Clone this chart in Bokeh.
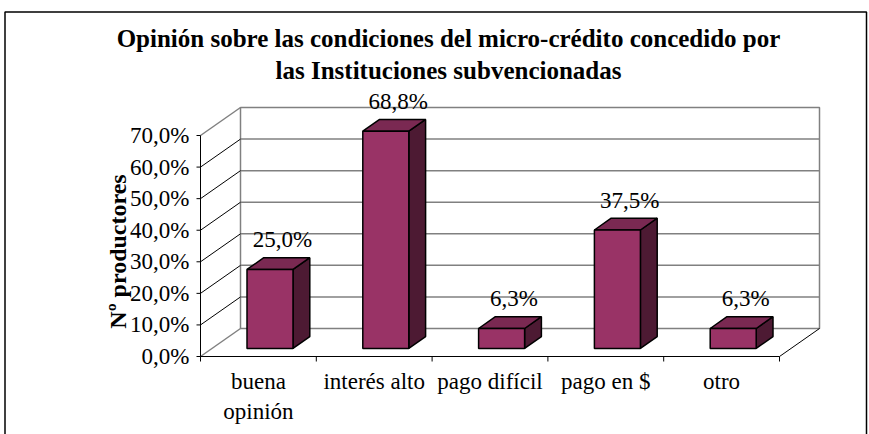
import math
from bokeh.plotting import figure
from bokeh.models import Range1d
from bokeh.embed import file_html
from bokeh.resources import INLINE
from bokeh.core.properties import value

# ---------------- data ----------------
categories = ["buena\nopinión", "interés alto", "pago difícil", "pago en $", "otro"]
values = [25.0, 68.8, 6.3, 37.5, 6.3]
y_ticks = [0, 10, 20, 30, 40, 50, 60, 70]
y_tick_labels = ["0,0%", "10,0%", "20,0%", "30,0%", "40,0%", "50,0%", "60,0%", "70,0%"]
title_lines = ["Opinión sobre las condiciones del micro-crédito concedido por",
               "las Instituciones subvencionadas"]
y_label = "Nº productores"

# ---------------- layout ----------------
W, H = 869, 434
PX_X = 115.8      # pixels per category
PX_Y = 3.157      # pixels per percent
OX, OY = 200, 356  # pixel position of (x=0.5, y=0)


def sx(px):  # horizontal pixel distance -> data
    return px / PX_X


def sy(px):  # vertical pixel distance -> data
    return px / PX_Y


FONT = "Liberation Serif"
GRAY = "#808080"
FRONT = "#993366"
TOP = "#7A2952"
SIDE = "#4D1A33"

p = figure(width=W, height=H,
           x_range=Range1d(0.5 - sx(OX), 0.5 + sx(W - OX)),
           y_range=Range1d(-sy(H - OY), sy(OY)),
           output_backend="svg", toolbar_location=None,
           min_border=0, x_axis_type=None, y_axis_type=None)
p.grid.visible = False
p.outline_line_color = None
p.background_fill_color = "white"
p.border_fill_color = "white"

n = len(categories)
x_lo, x_hi = 0.5, n + 0.5
y_top = y_ticks[-1]

# chart border
bl, br = 0.5 - sx(OX - 4.5), 0.5 + sx(866 - OX)
bt, bb = sy(OY - 11.5), -sy(H - OY + 10)
p.line([bl, bl, br, br], [bb, bt, bt, bb], line_color="black", line_width=1.5)

# depth of the 3-D box (back wall offset), in data units
DX = sx(40)
DY = sy(28)

# ---- back wall ----
p.patch([x_lo + DX, x_hi + DX, x_hi + DX, x_lo + DX],
        [DY, DY, y_top + DY, y_top + DY],
        fill_color="white", line_color=GRAY, line_width=1.5)
inner = y_ticks[1:-1]
p.segment(x0=[x_lo + DX] * len(inner), y0=[t + DY for t in inner],
          x1=[x_hi + DX] * len(inner), y1=[t + DY for t in inner],
          line_color=GRAY, line_width=1.5)
# side wall gridlines (black, thin)
p.segment(x0=[x_lo] * len(inner), y0=inner,
          x1=[x_lo + DX] * len(inner), y1=[t + DY for t in inner],
          line_color="black", line_width=1)
# side wall top & bottom edges (gray)
p.segment(x0=[x_lo, x_lo], y0=[0, y_top], x1=[x_lo + DX, x_lo + DX], y1=[DY, y_top + DY],
          line_color=GRAY, line_width=1.5)
# floor right edge
p.segment(x0=[x_hi], y0=[0], x1=[x_hi + DX], y1=[DY], line_color="black", line_width=1)

# ---- axes (front edges) ----
p.segment(x0=[x_lo, x_lo], y0=[0, 0], x1=[x_lo, x_hi], y1=[y_top, 0],
          line_color="black", line_width=1)
# y ticks + labels
p.segment(x0=[x_lo - sx(4)] * len(y_ticks), y0=y_ticks,
          x1=[x_lo] * len(y_ticks), y1=y_ticks, line_color="black", line_width=1)
p.text(x=[x_lo - sx(11)] * len(y_ticks), y=y_ticks, text=y_tick_labels,
       text_font=value(FONT), text_font_size="23px", text_color="black",
       text_align="right", text_baseline="middle")
# x ticks (between categories) + labels
bounds = [c + 0.5 for c in range(n + 1)]
p.segment(x0=bounds, y0=[0] * len(bounds), x1=bounds, y1=[-sy(5)] * len(bounds),
          line_color="black", line_width=1)
centers = [i + 1 for i in range(n)]
p.text(x=centers, y=[-sy(12)] * n, text=categories,
       text_font=value(FONT), text_font_size="23px", text_color="black",
       text_align="center", text_baseline="top", text_line_height=1.2)

# ---- bars ----
BW = sx(46)
DF, DB = 0.29, 0.71   # front / back depth of the bars
fx, fy = DF * DX, DF * DY
bx, by = DB * DX, DB * DY

front_xs, front_ys, top_xs, top_ys, side_xs, side_ys = [], [], [], [], [], []
for c, v in zip(centers, values):
    l, r = c - BW / 2, c + BW / 2
    front_xs.append([l + fx, r + fx, r + fx, l + fx])
    front_ys.append([fy, fy, v + fy, v + fy])
    top_xs.append([l + fx, r + fx, r + bx, l + bx])
    top_ys.append([v + fy, v + fy, v + by, v + by])
    side_xs.append([r + fx, r + bx, r + bx, r + fx])
    side_ys.append([fy, by, v + by, v + fy])

p.patches(side_xs, side_ys, fill_color=SIDE, line_color="black", line_width=1.5)
p.patches(top_xs, top_ys, fill_color=TOP, line_color="black", line_width=1.5)
p.patches(front_xs, front_ys, fill_color=FRONT, line_color="black", line_width=1.5)

# value labels
lab_txt = [("%.1f" % v).replace(".", ",") + "%" for v in values]
p.text(x=[c + 0.5 * DX + sx(4) for c in centers], y=[v + by + sy(18) for v in values],
       text=lab_txt, text_font=value(FONT), text_font_size="23px",
       text_align="center", text_baseline="middle", text_color="black")

# ---------------- title & axis label ----------------
tx = 0.5 + sx(448 - OX)
p.text(x=[tx, tx], y=[sy(OY - 38), sy(OY - 70)], text=title_lines,
       text_font=value(FONT), text_font_size="25px", text_font_style="bold",
       text_align="center", text_baseline="middle", text_color="black")
p.text(x=[0.5 - sx(OX - 117)], y=[sy(OY - 251)], text=[y_label], angle=math.pi / 2,
       text_font=value(FONT), text_font_size="24px", text_font_style="bold",
       text_align="center", text_baseline="middle", text_color="black")

open("out.html", "w").write(file_html(p, INLINE))
